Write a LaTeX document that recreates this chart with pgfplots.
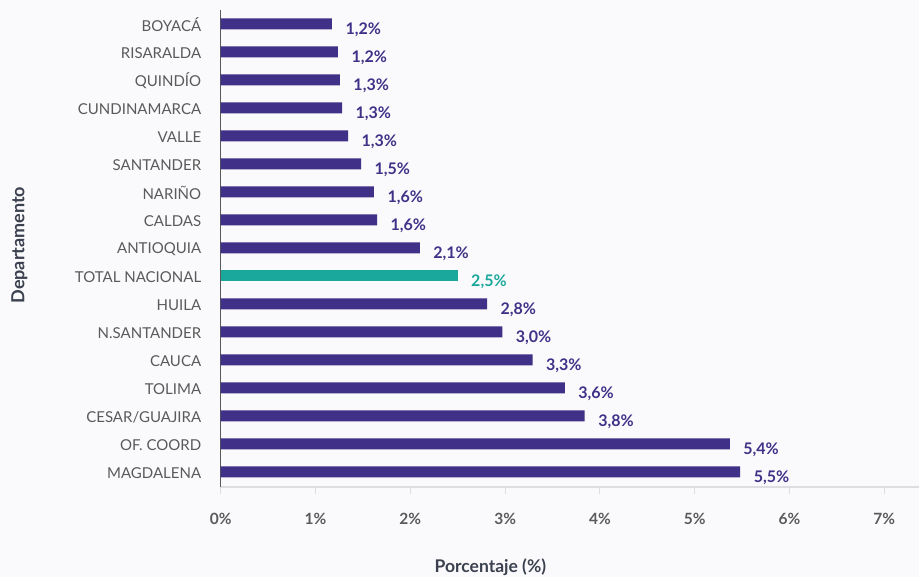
\documentclass[border=0pt]{standalone}
\usepackage{pgfplots}
\pgfplotsset{compat=1.18}
\usepackage{fontspec}
\setmainfont{Lato}
\definecolor{barc}{RGB}{64,48,135}
\definecolor{tealc}{RGB}{26,168,156}
\definecolor{bgc}{RGB}{250,250,252}
\definecolor{lblc}{RGB}{90,90,90}
\definecolor{titc}{RGB}{60,65,80}
\definecolor{gridc}{RGB}{222,222,226}
\begin{document}
\begin{tikzpicture}
\path[use as bounding box, fill=bgc] (0,0) rectangle (919pt,577pt);
\begin{axis}[
  at={(220.7pt,90pt)}, anchor=south west,
  scale only axis, width=698.7pt, height=477pt,
  xbar, bar width=11pt, bar shift=0pt,
  xmin=0, xmax=7.37, ymin=-0.54, ymax=16.5,
  axis x line*=bottom, axis y line*=left,
  x axis line style={draw=gridc, line width=1.5pt, -},
  y axis line style={draw=black!65, line width=0.9pt, -},
  xtick={0,1,2,3,4,5,6,7},
  xticklabels={0\%,1\%,2\%,3\%,4\%,5\%,6\%,7\%},
  xtick align=outside, major tick length=7pt,
  x tick style={draw=gridc, line width=1pt},
  xticklabel style={font=\fontsize{15.5}{17}\selectfont\bfseries, text=lblc, yshift=-16pt},
  ytick={0,...,16},
  yticklabels={MAGDALENA,OF. COORD,CESAR/GUAJIRA,TOLIMA,CAUCA,N.SANTANDER,HUILA,TOTAL NACIONAL,ANTIOQUIA,CALDAS,NARIÑO,SANTANDER,VALLE,CUNDINAMARCA,QUINDÍO,RISARALDA,BOYACÁ},
  y tick style={draw=none},
  yticklabel style={font=\fontsize{15}{17}\selectfont, text=lblc, xshift=-9pt, yshift=-1pt},
  xlabel={Porcentaje (\%)},
  xlabel style={at={(axis description cs:0.386,-0.168)}, anchor=center, font=\fontsize{17.5}{20}\selectfont\bfseries, text=titc},
  ylabel={Departamento},
  ylabel style={at={(axis description cs:-0.2883,0.507)}, anchor=center, font=\fontsize{18}{20}\selectfont\bfseries, text=titc},
  point meta=explicit,
  nodes near coords={\pgfmathprintnumber[fixed,fixed zerofill,precision=1,use comma,assume math mode=true]{\pgfplotspointmeta}\%},
  nodes near coords style={anchor=west, xshift=10pt, yshift=-5.5pt, font=\fontsize{16}{18}\selectfont\bfseries},
]
\addplot[fill=barc, draw=none, nodes near coords style={text=barc}] coordinates {
 (5.48,0) [5.5]
 (5.37,1) [5.4]
 (3.84,2) [3.8]
 (3.63,3) [3.6]
 (3.29,4) [3.3]
 (2.97,5) [3.0]
 (2.81,6) [2.8]
 (2.10,8) [2.1]
 (1.65,9) [1.6]
 (1.617,10) [1.6]
 (1.48,11) [1.5]
 (1.343,12) [1.3]
 (1.28,13) [1.3]
 (1.258,14) [1.3]
 (1.237,15) [1.2]
 (1.174,16) [1.2]
};
\addplot[fill=tealc, draw=none, nodes near coords style={text=tealc}] coordinates {
 (2.50,7) [2.5]
};
\end{axis}
\end{tikzpicture}
\end{document}
